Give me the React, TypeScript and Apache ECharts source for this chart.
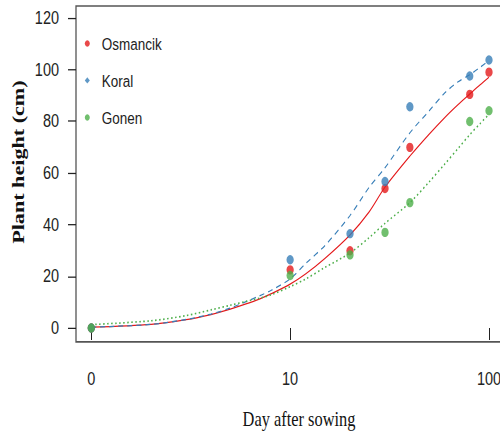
import React, { useEffect, useRef } from "react";
import * as echarts from "echarts";

// Observed days (day "0" is drawn at 1 on the log axis)
const obsDays = [1, 10, 20, 30, 40, 80, 100];
const osmancikObs = [0, 22.5, 29.9, 54.0, 69.9, 90.4, 99.0];
const koralObs = [0, 26.4, 36.5, 56.7, 85.6, 97.5, 103.7];
const gonenObs = [0, 20.3, 28.3, 37.0, 48.5, 79.9, 84.1];

// Fitted curves
const fitDays = [1, 2, 3, 4, 5, 6, 7, 8, 10, 12, 15, 20, 25, 30, 40, 50, 60, 70, 80, 90, 100];
const osmancikFit = [0.3, 1.4, 3.2, 5.2, 7.3, 9.3, 11.2, 13.2, 17.0, 21.0, 27.0, 36.0, 45.0, 54.5, 66.5, 75.0, 81.5, 86.5, 90.5, 94.0, 97.0];
const koralFit = [0.3, 1.4, 3.3, 5.4, 7.7, 10.2, 12.4, 14.5, 19.0, 25.0, 32.0, 43.5, 54.5, 62.0, 75.5, 84.0, 91.0, 95.3, 98.0, 100.8, 103.5];
const gonenFit = [1.3, 2.8, 4.8, 7.0, 8.8, 10.3, 11.5, 12.8, 16.0, 19.0, 23.5, 29.0, 35.0, 40.5, 48.5, 56.5, 63.5, 69.5, 74.8, 79.0, 82.7];

const xTicks = [1, 10, 100];
const yTicks = [0, 20, 40, 60, 80, 100, 120];

const RED = "#E41A1C";
const BLUE = "#377EB8";
const GREEN = "#4DAF4A";
const SANS = "'Liberation Sans', Arial, sans-serif";
const SERIF = "'Liberation Serif', 'Times New Roman', serif";

// The reference is vertically stretched; the chart is drawn at 500x339 and stretched to 434.
const CH = 339;
const SY = 434 / CH;

const pairs = (xs: number[], ys: number[]) => xs.map((x, i) => [x, ys[i]]);

export default function App() {
  const ref = useRef<HTMLDivElement>(null);
  useEffect(() => {
    if (!ref.current) return;
    const chart = echarts.init(ref.current, null, { renderer: "svg" });
    const scatter = (name: string, color: string, ys: number[]) => ({
      name,
      type: "scatter",
      data: pairs(obsDays, ys),
      symbol: "circle",
      symbolSize: 7.3,
      itemStyle: { color },
      z: 3,
    });
    const fit = (name: string, color: string, ys: number[], type: any, width: number) => ({
      name,
      type: "line",
      data: pairs(fitDays, ys),
      smooth: 0.3,
      showSymbol: false,
      symbol: "none",
      lineStyle: { color, width, type },
      z: 2,
    });
    chart.setOption({
      animation: false,
      backgroundColor: "#ffffff",
      grid: {
        left: 76,
        top: 4.7,
        right: -4,
        bottom: 71.9,
        show: true,
        borderColor: "#555",
        borderWidth: 1.3,
        containLabel: false,
        outerBoundsMode: "none",
      },
      legend: {
        orient: "vertical",
        left: 84.8,
        top: 26.9,
        padding: 0,
        itemWidth: 5,
        itemHeight: 5,
        itemGap: 14.9,
        data: [
          { name: "Osmancik", icon: "circle" },
          { name: "Koral", icon: "diamond" },
          { name: "Gonen", icon: "circle" },
        ],
        textStyle: { fontSize: 13.5, lineHeight: 14, color: "#222", fontFamily: SANS, padding: [0, 0, 0, 7] },
      },
      xAxis: {
        type: "log",
        logBase: 10,
        min: 0.838,
        max: 119,
        axisLine: { show: false },
        splitLine: { show: false },
        axisTick: { show: true, inside: false, length: 9.4, customValues: xTicks, lineStyle: { color: "#222", width: 1 } },
        axisLabel: {
          customValues: xTicks,
          margin: 21,
          fontSize: 14.5,
          color: "#222",
          fontFamily: SANS,
          formatter: (v: number) => (v === 1 ? "0" : String(Math.round(v))),
        },
      },
      yAxis: {
        type: "value",
        min: -5.4,
        max: 124.6,
        axisLine: { show: false },
        splitLine: { show: false },
        axisTick: { show: true, inside: false, length: 8, customValues: yTicks, lineStyle: { color: "#222", width: 1 } },
        axisLabel: {
          customValues: yTicks,
          margin: 17,
          fontSize: 14.5,
          color: "#222",
          fontFamily: SANS,
        },
      },
      graphic: [
        {
          type: "text",
          x: 299,
          y: 327.3,
          style: {
            text: "Day after sowing",
            fontSize: 16.4,
            fontFamily: SERIF,
            fill: "#111",
            textAlign: "center",
            textVerticalAlign: "middle",
          },
        },
        {
          type: "text",
          x: 18,
          y: 126.6,
          rotation: Math.PI / 2,
          style: {
            text: "Plant height (cm)",
            fontSize: 17.3,
            fontWeight: "bold",
            fontFamily: SERIF,
            fill: "#111",
            textAlign: "center",
            textVerticalAlign: "middle",
          },
        },
      ],
      series: [
        fit("Osmancik fit", RED, osmancikFit, "solid", 1.0),
        fit("Koral fit", BLUE, koralFit, [5, 4], 1.0),
        fit("Gonen fit", GREEN, gonenFit, [1.5, 2.5], 1.3),
        scatter("Osmancik", RED, osmancikObs),
        scatter("Koral", BLUE, koralObs),
        scatter("Gonen", GREEN, gonenObs),
      ],
    });
    return () => chart.dispose();
  }, []);
  return (
    <div style={{ width: 500, height: 434, position: "absolute", left: 0, top: 0, overflow: "hidden", background: "#fff" }}>
      <div
        ref={ref}
        style={{ width: 500, height: CH, transform: `scaleY(${SY})`, transformOrigin: "0 0" }}
      />
    </div>
  );
}
